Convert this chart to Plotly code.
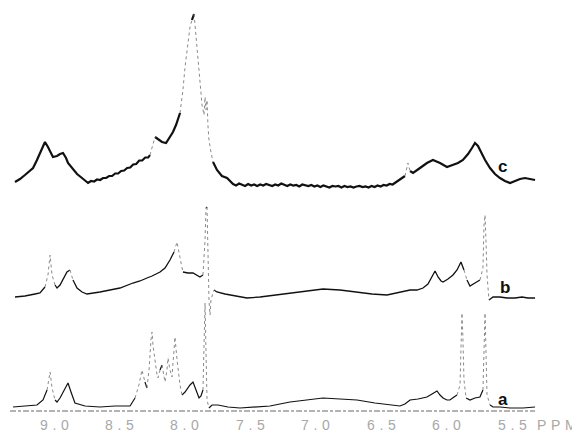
import plotly.graph_objects as go

# ---- data (chemical shift in ppm, relative intensity) ----
c_ppm = [9.298, 9.260, 9.222, 9.183, 9.160, 9.130, 9.107, 9.084, 9.069, 9.046, 9.023, 9.008,
         8.977, 8.954, 8.931, 8.908, 8.893, 8.862, 8.824, 8.786,
         8.740, 8.717, 8.694, 8.671, 8.648, 8.625, 8.602, 8.579, 8.556, 8.533, 8.510,
         8.487, 8.464, 8.441, 8.418, 8.395, 8.372, 8.349, 8.326, 8.303, 8.280,
         8.267, 8.251, 8.228, 8.206, 8.175, 8.144, 8.121, 8.091, 8.068, 8.037, 8.015, 7.999,
         7.976, 7.961, 7.946, 7.930, 7.923, 7.915, 7.900, 7.885, 7.869, 7.854, 7.846, 7.839,
         7.831, 7.824, 7.816, 7.801, 7.785, 7.755, 7.717, 7.678,
         7.632, 7.609, 7.586, 7.563, 7.540, 7.517, 7.494, 7.471, 7.448, 7.425,
         7.402, 7.379, 7.356, 7.333, 7.310, 7.287, 7.264, 7.241, 7.218, 7.195,
         7.172, 7.149, 7.126, 7.103, 7.080, 7.057, 7.034, 7.011, 6.988, 6.965,
         6.942, 6.919, 6.896, 6.873, 6.850, 6.827, 6.804, 6.781, 6.758, 6.735,
         6.712, 6.689, 6.666, 6.643, 6.620, 6.597, 6.574, 6.551, 6.528, 6.505,
         6.482, 6.459, 6.436, 6.413, 6.395,
         6.357, 6.319, 6.296, 6.280, 6.257, 6.204, 6.151, 6.105, 6.051, 5.998, 5.952, 5.914,
         5.876, 5.837, 5.807, 5.784, 5.761, 5.738, 5.707, 5.669, 5.631, 5.593, 5.555, 5.516,
         5.478, 5.440, 5.402, 5.364, 5.325]
c_int = [1, 4, 8, 13, 15, 23, 30, 37, 41, 36, 29, 26,
         27, 29, 30, 25, 20, 15, 9, 5,
         0, 2, 1.5, 3.5, 3, 5, 5, 7, 7, 9.5, 9.5,
         12, 12.5, 15, 15.5, 18.5, 19, 22.5, 22.5, 25.5, 25.5,
         28, 35, 46, 44, 41, 40, 45, 51, 58, 70, 93, 116,
         138, 156, 163, 169, 158, 143, 128, 103, 78, 68, 86, 73,
         83, 58, 43, 31, 21, 13, 7, 5,
         -1, -2.5, -0.5, -2, -3, -1, -2.5, -1.5, -3, -1.5,
         -2.5, -1, -2, -3, -1.5, -2.5, -0.5, -2, -3, -1.5,
         -2.5, -2, -3.5, -1.5, -2.5, -3, -2, -3.5, -2.5, -4,
         -2.5, -3.5, -4.5, -3, -3.5, -3, -4.5, -3, -4, -3.5,
         -4.5, -3.5, -3, -4, -3.5, -4.5, -3, -4, -2.5, -3.5,
         -2, -2.5, -1, -1.5, 0,
         3, 7, 20, 12, 10, 15, 20, 23, 20, 16, 18, 20,
         23, 29, 35, 40, 37, 31, 23, 15, 9, 5, 2, 0,
         2, 4, 5, 4, 3]

b_ppm = [9.298, 9.222, 9.145, 9.107, 9.069, 9.046, 9.030, 9.015, 8.992, 8.977, 8.954, 8.924,
         8.901, 8.878, 8.855, 8.824, 8.786, 8.748, 8.649, 8.572, 8.496, 8.397, 8.343, 8.290,
         8.251, 8.190, 8.152, 8.114, 8.083, 8.060, 8.037, 8.015, 7.976, 7.938, 7.908, 7.885,
         7.862, 7.846, 7.839, 7.831, 7.824, 7.816, 7.808, 7.801, 7.778, 7.755, 7.694, 7.617,
         7.526, 7.426, 7.312, 7.197, 7.082, 6.945, 6.815, 6.685, 6.571, 6.456, 6.357, 6.280,
         6.227, 6.181, 6.143, 6.112, 6.089, 6.066, 6.043, 6.028, 5.990, 5.952, 5.921, 5.891,
         5.868, 5.845, 5.822, 5.784, 5.746, 5.723, 5.715, 5.707, 5.700, 5.692, 5.677, 5.646,
         5.593, 5.539, 5.478, 5.425, 5.379, 5.325]
b_int = [-2, -1, 1, 2, 8, 20, 40, 20, 10, 7, 10, 17,
         23, 25, 15, 7, 3, 1, 3, 5, 7, 12, 14, 17,
         19, 23, 27, 35, 43, 53, 37, 23, 22, 22, 20, 18,
         20, 55, 87, 88, 35, -5, -20, -5, 5, 3, 1, -1,
         -3, -2, 0, 2, 4, 6, 5, 3, 1, 0, 3, 5,
         5, 7, 11, 19, 24, 18, 14, 13, 16, 20, 25, 33,
         25, 15, 9, 12, 15, 27, 70, 80, 55, 20, -5, -2,
         -2, -3, -3, -2, -3, -3]

a_ppm = [9.313, 9.222, 9.130, 9.084, 9.053, 9.030, 9.015, 8.992, 8.977, 8.954, 8.924, 8.893,
         8.870, 8.840, 8.763, 8.649, 8.534, 8.419, 8.381, 8.351, 8.328, 8.305, 8.290, 8.274,
         8.259, 8.251, 8.244, 8.228, 8.213, 8.206, 8.190, 8.175, 8.160, 8.152, 8.137, 8.129,
         8.114, 8.099, 8.083, 8.076, 8.060, 8.037, 8.022, 7.999, 7.961, 7.938, 7.915, 7.892,
         7.877, 7.862, 7.854, 7.846, 7.839, 7.831, 7.816, 7.793, 7.747, 7.671, 7.579, 7.464,
         7.350, 7.197, 7.067, 6.945, 6.815, 6.685, 6.548, 6.433, 6.357, 6.319, 6.280, 6.219,
         6.151, 6.112, 6.074, 6.051, 6.028, 5.998, 5.975, 5.944, 5.921, 5.898, 5.891, 5.883,
         5.876, 5.868, 5.852, 5.822, 5.784, 5.746, 5.723, 5.715, 5.707, 5.700, 5.692, 5.669,
         5.646, 5.593, 5.516, 5.417, 5.325]
a_int = [-2, -1, 0, 5, 15, 33, 17, 5, 3, 7, 15, 22,
         13, 2, -1, -2, -1, -1, 7, 20, 35, 23, 17, 35,
         65, 73, 60, 43, 30, 27, 35, 40, 30, 23, 35, 47,
         35, 28, 55, 68, 45, 20, 10, 13, 20, 23, 15, 7,
         9, 15, 65, 102, 55, 5, -3, 0, 0, -2, -3, -2,
         -1, 3, 5, 7, 6, 5, 2, 0, -1, 1, 5, 6,
         8, 11, 14, 10, 7, 5, 5, 8, 10, 20, 55, 92,
         67, 25, 7, 5, 7, 8, 15, 65, 92, 55, 10, 0,
         -2, -2, -3, -3, -2]

trace_labels = ["c", "b", "a"]
tick_values = [9.0, 8.5, 8.0, 7.5, 7.0, 6.5, 6.0, 5.5]
tick_labels = ["9.0", "8.5", "8.0", "7.5", "7.0", "6.5", "6.0", "5.5"]
unit_label = "PPM"

# ---- layout constants ----
PX_PER_PPM = 130.9
offsets = {"c": 258, "b": 146, "a": 36}
widths = {"c": 2.2, "b": 1.3, "a": 1.2}
label_pos = {"c": (5.577, 275), "b": (5.555, 154), "a": (5.570, 42)}
spectra = {"c": (c_ppm, c_int), "b": (b_ppm, b_int), "a": (a_ppm, a_int)}

fig = go.Figure()


def split_segments(xs, ys, off):
    """Split the pen trace into slow (dark) and fast (faint) strokes by slope."""
    solid_x, solid_y, faint_x, faint_y = [], [], [], []
    prev_cls = None
    for i in range(len(xs) - 1):
        dx = abs(xs[i] - xs[i + 1]) * PX_PER_PPM
        dy = abs(ys[i] - ys[i + 1])
        cls = "faint" if dy > 3.2 * max(dx, 0.01) else "solid"
        tx, ty = (faint_x, faint_y) if cls == "faint" else (solid_x, solid_y)
        if cls != prev_cls:
            if tx:
                tx.append(None)
                ty.append(None)
            tx.append(xs[i])
            ty.append(ys[i] + off)
        tx.append(xs[i + 1])
        ty.append(ys[i + 1] + off)
        prev_cls = cls
    return solid_x, solid_y, faint_x, faint_y


for name in trace_labels:
    xs, ys = spectra[name]
    sx, sy, fx, fy = split_segments(xs, ys, offsets[name])
    fig.add_trace(go.Scatter(x=sx, y=sy, mode="lines", connectgaps=False,
                             line=dict(color="#111111", width=widths[name]),
                             hoverinfo="skip", showlegend=False))
    fig.add_trace(go.Scatter(x=fx, y=fy, mode="lines", connectgaps=False,
                             line=dict(color="#8a8a8a", width=1, dash="dot"),
                             hoverinfo="skip", showlegend=False))
    lx, ly = label_pos[name]
    fig.add_annotation(x=lx, y=ly, text="<b>" + name + "</b>", showarrow=False,
                       font=dict(family="Liberation Sans", size=17, color="#111111"),
                       xanchor="center", yanchor="middle")

# baseline rule under spectrum a
fig.add_shape(type="line", x0=9.336, x1=5.325, y0=30, y1=30,
              line=dict(color="#9a9a9a", width=1.6, dash="6px,2px,3px,2px"))

# tick labels along the bottom
SP = "\u2004"
for v, t in zip(tick_values, tick_labels):
    fig.add_annotation(x=v, y=16, text=SP.join(t), showarrow=False,
                       font=dict(family="Liberation Sans", size=14, color="#a8a8a8"),
                       xanchor="center", yanchor="middle")
fig.add_annotation(x=4.987, y=16, text=SP.join(unit_label), showarrow=False,
                   font=dict(family="Liberation Sans", size=14, color="#a8a8a8"),
                   xanchor="right", yanchor="middle")

# the page body adds an 8 px margin, so the figure is 572x433 and the ranges
# are chosen so the data land where they sit in the 580x441 window
fig.update_layout(
    width=572, height=433,
    margin=dict(l=0, r=0, t=0, b=0),
    paper_bgcolor="white", plot_bgcolor="white",
    xaxis=dict(range=[9.3514, 4.9816], visible=False, fixedrange=True),
    yaxis=dict(range=[0, 433], visible=False, fixedrange=True),
    showlegend=False,
)

fig.write_html("out.html")
